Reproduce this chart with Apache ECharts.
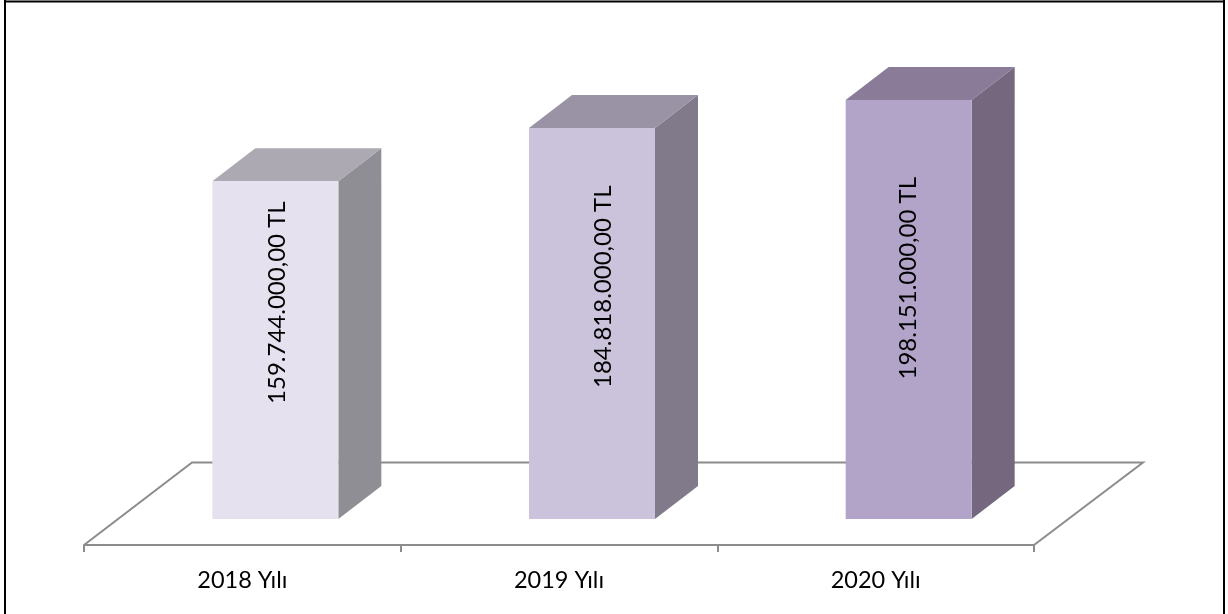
<!DOCTYPE html>
<html><head><meta charset="utf-8">
<style>html,body{margin:0;padding:0;background:#fff}#c{width:1228px;height:614px}</style>
<script src="https://cdn.jsdelivr.net/npm/echarts@6/dist/echarts.min.js"></script>
</head><body><div id="c"></div>
<script>
const categories = ['2018 Yılı','2019 Yılı','2020 Yılı'];
const values = [159744000, 184818000, 198151000];
const valueLabels = ['159.744.000,00 TL','184.818.000,00 TL','198.151.000,00 TL'];
const frontColors = ['#E6E1EE','#CBC3DC','#B2A4C8'];
const topColors = ['#ADA9B3','#9A93A6','#8A7C98'];
const sideColors = ['#908E95','#807A8B','#75677E'];
const labelShift = [2, 11, 0];
const axisGray = '#8C8C8C';
const DX = 43, DY = 33, BAR_W = 126, BAR_SHIFT = 33;

const chart = echarts.init(document.getElementById('c'), null, {renderer:'canvas'});
chart.setOption({
  animation:false,
  backgroundColor:'#fff',
  graphic:[
    {type:'line',silent:true,shape:{x1:5,y1:0,x2:5,y2:614},style:{stroke:'#000',lineWidth:2}},
    {type:'line',silent:true,shape:{x1:4,y1:1.5,x2:1225,y2:1.5},style:{stroke:'#000',lineWidth:2}},
    {type:'line',silent:true,shape:{x1:1224,y1:0,x2:1224,y2:614},style:{stroke:'#000',lineWidth:2}}
  ],
  grid:{left:84,top:96,width:950,height:423,containLabel:false},
  xAxis:{type:'category',data:categories,offset:26,boundaryGap:true,
    axisLine:{show:true,onZero:false,lineStyle:{color:axisGray,width:2}},
    axisTick:{show:true,length:7,inside:false,alignWithLabel:false,lineStyle:{color:axisGray,width:2}},
    axisLabel:{color:'#000',fontFamily:'Lato',fontSize:23.5,margin:23}},
  yAxis:{type:'value',min:0,max:200000000,show:false,splitLine:{show:false}},
  series:[
    {type:'custom',z:1,silent:true,clip:false,data:[0],
     renderItem(params,api){
       const c=params.coordSys, b=c.y+c.height;
       return {type:'polyline',shape:{points:[
         [c.x,b+26],[c.x+108,b-56.5],[c.x+c.width+109,b-56.5],[c.x+c.width,b+26]]},
         style:{stroke:axisGray,lineWidth:2,fill:null}};
     }},
    {type:'custom',z:2,clip:false,silent:true,
     data:values.map((v,i)=>[i,v]),
     renderItem(params,api){
       const i=params.dataIndex;
       const p=api.coord([api.value(0),api.value(1)]);
       const base=api.coord([api.value(0),0]);
       const l=p[0]+BAR_SHIFT-BAR_W/2, r=l+BAR_W, t=p[1], b=base[1];
       const h=b-t;
       return {type:'group',children:[
         {type:'polygon',shape:{points:[[r,t],[r+DX,t-DY],[r+DX,b-DY],[r,b]]},style:{fill:sideColors[i]}},
         {type:'polygon',shape:{points:[[l,t],[l+DX,t-DY],[r+DX,t-DY],[r,t]]},style:{fill:topColors[i]}},
         {type:'rect',shape:{x:l,y:t,width:BAR_W,height:h},style:{fill:frontColors[i]}},
         {type:'text',x:p[0]+BAR_SHIFT+labelShift[i],y:b-(115+0.3*h),rotation:Math.PI/2,
          style:{text:valueLabels[i],fill:'#000',font:'24px Lato',align:'center',verticalAlign:'middle'}}
       ]};
     }}
  ]
});
</script></body></html>
